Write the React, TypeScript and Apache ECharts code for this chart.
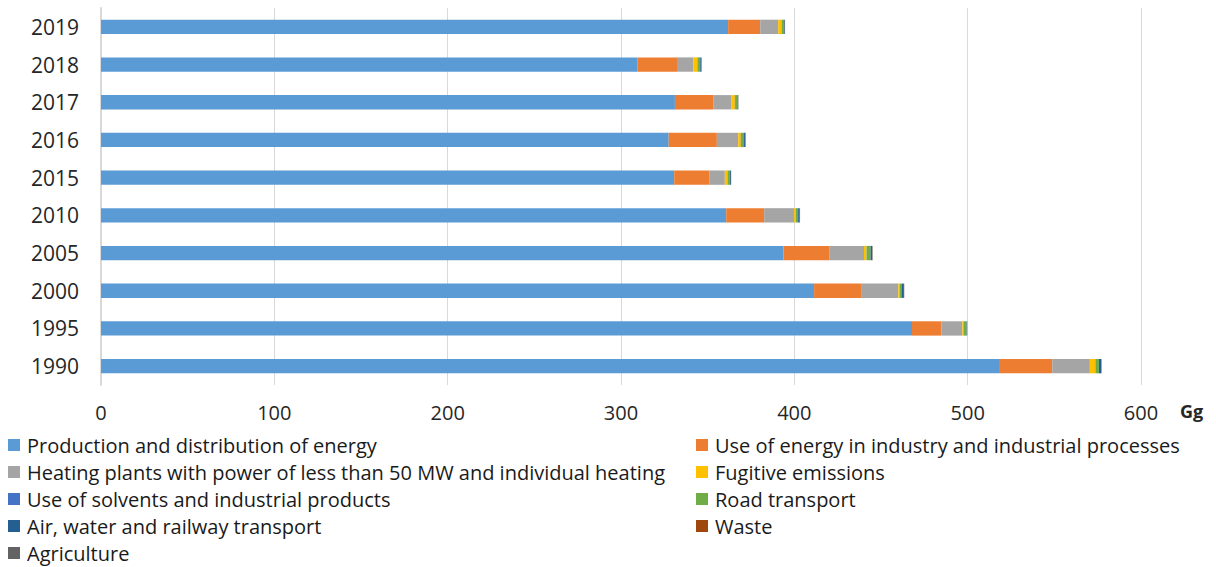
import React, { useEffect, useRef } from "react";
import * as echarts from "echarts";

const years = ["1990", "1995", "2000", "2005", "2010", "2015", "2016", "2017", "2018", "2019"];

const production = [518.6, 467.9, 411.4, 393.7, 360.7, 330.7, 327.5, 331.1, 309.6, 361.8];
const industry = [30.2, 16.9, 27.5, 26.4, 21.9, 20.2, 27.8, 22.1, 22.7, 18.5];
const heating = [21.7, 12.1, 21.1, 20.1, 17.3, 9.0, 12.3, 10.6, 9.4, 10.4];
const fugitive = [3.2, 0.6, 0.8, 1.4, 0.9, 1.5, 1.5, 1.9, 2.3, 1.9];
const solvents = [0.2, 0.1, 0.1, 0.1, 0.1, 0.1, 0.1, 0.1, 0.1, 0.1];
const road = [1.8, 1.8, 0.9, 2.3, 1.3, 1.3, 1.8, 1.4, 1.6, 1.4];
const airWaterRail = [1.3, 0.2, 1.4, 0.9, 0.9, 0.6, 0.8, 0.4, 0.7, 0.4];
const waste = [0.1, 0.05, 0.1, 0.1, 0.1, 0.05, 0.05, 0.05, 0.05, 0.05];
const agriculture = [0.2, 0.1, 0.1, 0.2, 0.1, 0.1, 0.1, 0.1, 0.1, 0.1];

const seriesNames = [
  "Production and distribution of energy",
  "Use of energy in industry and industrial processes",
  "Heating plants with power of less than 50 MW and individual heating",
  "Fugitive emissions",
  "Use of solvents and industrial products",
  "Road transport",
  "Air, water and railway transport",
  "Waste",
  "Agriculture",
];
const seriesData = [production, industry, heating, fugitive, solvents, road, airWaterRail, waste, agriculture];
const colors = ["#5B9BD5", "#ED7D31", "#A5A5A5", "#FFC000", "#4472C4", "#70AD47", "#255E91", "#9E480E", "#636363"];

const xTicks = [0, 100, 200, 300, 400, 500, 600];
const unitLabel = "Gg";

const FONT = "Open Sans";

export default function App() {
  const ref = useRef<HTMLDivElement>(null);
  useEffect(() => {
    document.body.style.margin = "0";
    if (!ref.current) return;
    const chart = echarts.init(ref.current, null, { renderer: "svg" });
    const legendText = { fontFamily: FONT, fontSize: 20, color: "#1a1a1a", padding: [0, 0, 0, 2] };
    const legendBase = {
      orient: "vertical",
      top: 435,
      height: 200,
      padding: 0,
      itemWidth: 12,
      itemHeight: 12,
      itemGap: 7,
      icon: "rect",
      textStyle: legendText,
    };
    chart.setOption({
      animation: false,
      color: colors,
      textStyle: { fontFamily: FONT },
      grid: { left: 101, right: 75, top: 8, bottom: 182, containLabel: false },
      xAxis: {
        type: "value",
        min: xTicks[0],
        max: xTicks[xTicks.length - 1],
        interval: 100,
        axisLine: { show: false },
        axisTick: { show: false },
        splitLine: { show: true, lineStyle: { color: "#D9D9D9", width: 1 } },
        axisLabel: { fontFamily: FONT, fontSize: 20, color: "#262626", margin: 17 },
      },
      yAxis: {
        type: "category",
        data: years,
        axisLine: { show: true, lineStyle: { color: "#D9D9D9", width: 2 } },
        axisTick: { show: false },
        axisLabel: { fontFamily: FONT, fontSize: 21, color: "#262626", margin: 22 },
      },
      legend: [
        {
          ...legendBase,
          left: 8,
          data: [seriesNames[0], seriesNames[2], seriesNames[4], seriesNames[6], seriesNames[8]],
        },
        {
          ...legendBase,
          left: 696,
          data: [seriesNames[1], seriesNames[3], seriesNames[5], seriesNames[7]],
        },
      ],
      graphic: [
        {
          type: "text",
          left: 1180,
          top: 402,
          style: { text: unitLabel, fontFamily: FONT, fontSize: 18, fontWeight: "bold", fill: "#262626" },
        },
      ],
      series: seriesNames.map((name, i) => ({
        name,
        type: "bar",
        stack: "total",
        barWidth: "38%",
        data: seriesData[i],
        itemStyle: { color: colors[i] },
      })),
    });
    return () => chart.dispose();
  }, []);
  return <div ref={ref} style={{ width: 1216, height: 567 }} />;
}
